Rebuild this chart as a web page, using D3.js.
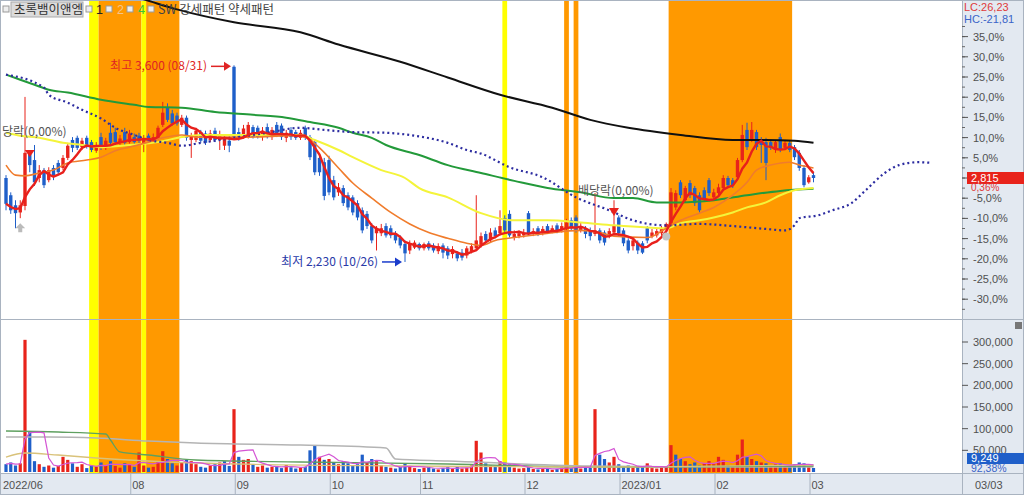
<!DOCTYPE html>
<html><head><meta charset="utf-8">
<script src="https://cdn.jsdelivr.net/npm/d3@7/dist/d3.min.js"></script>
<style>
body{margin:0;background:#fff;overflow:hidden}
text{font-family:"Liberation Sans","Noto Sans CJK KR",sans-serif}
.kr{font-family:"Noto Sans CJK KR","Liberation Sans",sans-serif}
</style>
</head><body>
<svg id="c" width="1024" height="495"></svg>
<script>
// ---------------- DATA ----------------
const opens=[2815,2695,2625,2575,2620,2990,2940,2815,2870,2800,2885,2920,2885,2955,3080,3095,3030,3095,3065,3005,3100,3025,3130,3135,3060,3135,3065,3100,3110,3055,3110,3075,3095,3185,3310,3265,3250,3185,3235,3080,3080,3135,3125,3080,3145,3080,3040,3075,3590,3135,3100,3100,3170,3165,3100,3170,3100,3185,3180,3095,3150,3135,3095,3165,3100,3065,2955,2925,2940,2800,2715,2745,2695,2680,2640,2590,2565,2480,2430,2430,2480,2465,2430,2400,2355,2310,2330,2355,2325,2360,2345,2305,2345,2325,2285,2290,2295,2275,2305,2325,2345,2425,2380,2450,2430,2535,2565,2400,2410,2415,2570,2425,2465,2430,2480,2445,2485,2450,2465,2520,2540,2450,2465,2450,2425,2450,2435,2410,2435,2540,2450,2380,2340,2365,2360,2465,2410,2415,2430,2460,2500,2610,2785,2660,2780,2745,2695,2730,2800,2680,2710,2745,2815,2800,2820,2940,3150,3080,3135,3080,3065,3065,3010,3100,3025,3060,3030,2990,2885,2785,2835];
const highs=[2835,2715,2660,2660,3380,3010,3045,2905,2885,2890,2905,2940,2975,3060,3100,3110,3095,3110,3080,3065,3130,3095,3200,3165,3115,3165,3150,3125,3130,3115,3125,3125,3180,3345,3335,3290,3270,3255,3250,3130,3165,3150,3145,3150,3165,3145,3115,3110,3600,3165,3185,3205,3185,3180,3170,3195,3170,3205,3195,3150,3170,3150,3150,3180,3115,3080,2975,2955,2970,2830,2780,2765,2715,2695,2660,2610,2585,2500,2480,2495,2500,2485,2445,2415,2380,2380,2380,2365,2365,2375,2360,2360,2360,2340,2340,2305,2320,2340,2360,2695,2435,2445,2465,2470,2590,2555,2590,2450,2450,2460,2585,2465,2480,2480,2495,2485,2500,2505,2530,2540,2555,2505,2480,2470,2710,2465,2450,2465,2660,2555,2465,2395,2395,2380,2375,2480,2460,2465,2480,2505,2745,2730,2800,2760,2800,2760,2715,2750,2815,2740,2775,2835,2830,2815,2955,3185,3200,3205,3150,3100,3095,3080,3080,3125,3080,3075,3045,3010,2905,2835,2855];
const lows=[2590,2565,2465,2535,2590,2855,2760,2785,2745,2785,2800,2835,2870,2940,2995,3010,3010,3020,2995,2990,3010,3010,3040,3045,3045,3040,3055,3045,3060,2995,3060,3060,3080,3170,3205,3180,3180,3170,3075,2955,3065,3060,3045,3065,3065,3010,3010,2995,3080,3075,3090,3090,3090,3090,3075,3090,3080,3100,3080,3065,3080,3080,3080,3080,2940,2835,2830,2660,2695,2660,2690,2620,2590,2555,2520,2430,2460,2360,2310,2410,2400,2395,2360,2325,2230,2285,2320,2310,2310,2310,2295,2285,2255,2250,2255,2235,2240,2255,2290,2310,2330,2360,2365,2395,2415,2435,2400,2380,2395,2400,2415,2410,2410,2415,2425,2430,2430,2435,2450,2450,2435,2435,2395,2380,2410,2360,2345,2395,2425,2410,2340,2290,2310,2285,2285,2360,2395,2400,2415,2435,2480,2590,2675,2645,2675,2620,2575,2655,2690,2670,2695,2730,2750,2745,2810,2925,3010,3065,3010,2920,2800,3010,2990,2995,3010,2995,2940,2865,2750,2775,2785];
const closes=[2635,2590,2570,2625,2990,2905,2785,2870,2765,2870,2830,2855,2955,3040,3025,3025,3075,3040,3010,3040,3030,3075,3060,3065,3090,3060,3125,3065,3075,3095,3075,3100,3165,3270,3220,3195,3195,3235,3095,3110,3145,3075,3060,3125,3080,3115,3090,3040,3100,3095,3160,3185,3100,3100,3145,3100,3150,3115,3100,3130,3100,3095,3130,3095,2960,2855,2855,2690,2715,2680,2750,2640,2610,2575,2540,2450,2480,2380,2460,2465,2415,2415,2380,2345,2290,2360,2365,2325,2355,2325,2310,2340,2295,2275,2320,2255,2260,2325,2340,2380,2410,2380,2435,2410,2480,2450,2415,2425,2430,2435,2430,2445,2425,2460,2435,2465,2445,2480,2505,2465,2450,2480,2425,2410,2450,2380,2365,2445,2485,2430,2360,2310,2380,2310,2295,2380,2435,2445,2460,2495,2715,2710,2695,2745,2695,2640,2590,2675,2710,2715,2750,2815,2765,2765,2940,3115,3030,3150,3030,3045,2920,3025,3065,3010,3060,3010,2960,2885,2765,2820,2815];
const volumes=[18000,22000,15000,20000,305000,92000,25000,18000,12000,15000,10000,14000,35000,28000,20000,12000,18000,9000,15000,12000,22000,16000,25000,14000,10000,20000,18000,12000,45000,15000,10000,12000,25000,48000,30000,20000,15000,22000,28000,25000,18000,12000,10000,15000,18000,22000,25000,14000,145000,35000,28000,30000,18000,12000,15000,10000,12000,14000,9000,16000,11000,8000,10000,12000,50000,62000,35000,28000,30000,22000,18000,25000,20000,15000,18000,40000,22000,30000,25000,15000,12000,10000,8000,12000,20000,14000,9000,7000,10000,12000,8000,6000,9000,11000,7000,12000,8000,10000,15000,72000,45000,20000,15000,12000,25000,22000,18000,10000,8000,9000,12000,7000,6000,8000,9000,5000,7000,10000,12000,9000,15000,8000,12000,10000,145000,40000,30000,22000,35000,18000,12000,15000,10000,12000,14000,20000,9000,8000,10000,12000,62000,40000,30000,25000,18000,22000,15000,20000,25000,18000,35000,28000,15000,12000,40000,75000,35000,30000,25000,22000,20000,15000,18000,20000,12000,15000,18000,22000,20000,12000,9249];

// moving-average lines: [day index, price]
const ma10 =[[0,2905],[2,2835],[4,2830],[7,2850],[10,2870],[13,2920],[17,2940],[20,2960],[23,3005],[26,3030],[30,3065],[33,3095],[37,3115],[40,3100],[44,3100],[51,3100],[60,3110],[63,3100],[66,3025],[70,2885],[73,2780],[77,2675],[81,2575],[85,2495],[89,2435],[93,2395],[97,2360],[100,2345],[103,2380],[107,2400],[113,2425],[121,2450],[125,2435],[128,2410],[135,2400],[139,2465],[142,2520],[146,2570],[149,2610],[153,2695],[156,2785],[158,2870],[161,2905],[165,2925],[167,2905],[170,2885]];
const ma20 =[[0,3130],[3,3110],[7,3095],[12,3060],[16,3045],[20,3030],[26,3045],[32,3065],[37,3100],[41,3115],[51,3115],[62,3115],[65,3080],[70,3010],[73,2960],[79,2870],[84,2815],[87,2745],[93,2680],[100,2570],[107,2520],[114,2520],[121,2505],[128,2485],[135,2470],[139,2465],[142,2500],[146,2520],[149,2540],[153,2575],[156,2610],[160,2645],[163,2695],[166,2730],[170,2745]];
const ma60 =[[0,3535],[6,3465],[9,3430],[13,3410],[20,3360],[27,3325],[30,3310],[37,3305],[44,3275],[52,3255],[59,3235],[64,3205],[70,3165],[73,3130],[77,3095],[80,3045],[87,2975],[93,2905],[100,2850],[107,2795],[114,2745],[121,2715],[128,2675],[132,2675],[137,2645],[142,2645],[149,2660],[156,2695],[163,2725],[170,2740]];
const ma120=[[20,4145],[29,4060],[36,3990],[48,3900],[62,3830],[70,3745],[83,3625],[93,3515],[104,3395],[115,3305],[123,3220],[131,3165],[142,3115],[153,3080],[160,3080],[166,3075],[170,3060]];
const leadLine=[[0,3535],[8,3445],[9,3395],[13,3340],[16,3290],[20,3230],[23,3165],[27,3115],[30,3080],[34,3060],[37,3040],[41,3060],[48,3095],[55,3130],[62,3165],[67,3150],[73,3135],[80,3130],[86,3110],[93,3060],[97,3010],[100,2985],[106,2890],[113,2820],[120,2680],[127,2590],[132,2520],[139,2485],[146,2495],[153,2480],[160,2460],[164,2450],[166,2485],[167,2535],[171,2555],[174,2590],[178,2640],[181,2730],[185,2850],[188,2905],[192,2925],[195,2920]];
// volume moving averages
const volMaLong=[[0,80800],[9,80800],[19,78500],[30,71500],[40,67000],[62,62300],[80,55400],[82,30000],[93,25400],[123,13800],[146,11500],[170,11500]];
const volMa20=[[0,94600],[11,92300],[21,87700],[22,73800],[24,46200],[30,39200],[40,27700],[62,23100],[93,18500],[123,11500],[170,13800]];
const volMa10=[[0,34600],[4,43900],[11,39200],[19,32300],[30,25400],[40,20800],[83,13800],[125,11500],[170,16200]];

// pattern bands (day index ranges)
const bandFrom=[18,20,29,30,105,118,120,140];
const bandTo  =[19,28,29,36,105,118,120,165];
const bandKind=["1","SW","1","SW","1","SW","SW","SW"];

const monthIdx=[0,27,49,69,88,110,130,150,170];
const monthLabels=["2022/06","08","09","10","11","12","2023/01","02","03"];
const pctTicks=[-30,-25,-20,-15,-10,-5,0,5,10,15,20,25,30,35];
const volTicks=[50000,100000,150000,200000,250000,300000];
const highDate="08/31", lowDate="10/26", lastDate="03/03";
const dayChangePct=0.36, volRatioPct=92.38;

// ---------------- CHART ----------------
(function(){
const svg=d3.select("#c");
const PR=962, TOPB=318, VOLT=320, VOLB=473;
const x=d3.scaleLinear().domain([0,200]).range([6,956]);
const base=closes[closes.length-1];
const y=d3.scaleLinear().domain([base*0.70,base*1.35]).range([299.2,36.6]);
const yv=d3.scaleLinear().domain([0,300000]).range([VOLB-1,342]);
const fmtPct=v=>v.toFixed(1).replace('.',',')+'%';
const fmtN=d3.format(",");

const defs=svg.append("defs");
defs.append("clipPath").attr("id","cTop").append("rect").attr("x",0).attr("y",0).attr("width",PR).attr("height",TOPB);
defs.append("clipPath").attr("id","cVol").append("rect").attr("x",0).attr("y",VOLT).attr("width",PR).attr("height",VOLB-VOLT);

svg.append("rect").attr("width",1024).attr("height",495).attr("fill","#fff");
svg.append("rect").attr("x",PR).attr("y",0).attr("width",1024-PR).attr("height",495).attr("fill","#e3e9f1");
svg.append("rect").attr("x",0).attr("y",VOLB+1).attr("width",1024).attr("height",495-VOLB-1).attr("fill","#e3e9f1");

const bandColor={"1":"#ffff00","SW":"#ff9900"};
svg.append("g").selectAll("rect").data(bandFrom).join("rect")
  .attr("x",(d,i)=>x(d-0.5)).attr("width",(d,i)=>x(bandTo[i]+0.5)-x(d-0.5))
  .attr("y",0).attr("height",VOLB).attr("fill",(d,i)=>bandColor[bandKind[i]]);

svg.append("line").attr("x1",0).attr("x2",1024).attr("y1",319.5).attr("y2",319.5).attr("stroke","#a9b3c0");
svg.append("line").attr("x1",0).attr("x2",1024).attr("y1",VOLB+0.5).attr("y2",VOLB+0.5).attr("stroke","#a9b3c0");
svg.append("line").attr("x1",PR+0.5).attr("x2",PR+0.5).attr("y1",0).attr("y2",495).attr("stroke","#a9b3c0");
svg.append("rect").attr("x",0.5).attr("y",0.5).attr("width",1023).attr("height",494).attr("fill","none").attr("stroke","#a9b3c0");

const topG=svg.append("g").attr("clip-path","url(#cTop)");
const idx=d3.range(closes.length);
const up=i=>closes[i]>=opens[i];
const RED="#e8231b", BLUE="#1f5fc9";

const cg=topG.append("g");
cg.selectAll("line").data(idx).join("line")
  .attr("x1",i=>x(i)).attr("x2",i=>x(i)).attr("y1",i=>y(highs[i])).attr("y2",i=>y(lows[i]))
  .attr("stroke",i=>up(i)?RED:BLUE).attr("stroke-width",1);
cg.selectAll("rect").data(idx).join("rect")
  .attr("x",i=>x(i)-1.7).attr("width",3.4)
  .attr("y",i=>Math.min(y(opens[i]),y(closes[i])))
  .attr("height",i=>Math.max(1,Math.abs(y(opens[i])-y(closes[i]))))
  .attr("fill",i=>up(i)?RED:BLUE);

const ln=d3.line().x(d=>x(d[0])).y(d=>y(d[1])).curve(d3.curveMonotoneX);
topG.append("path").attr("d",ln(ma120)).attr("fill","none").attr("stroke","#111").attr("stroke-width",2);
topG.append("path").attr("d",ln(ma60)).attr("fill","none").attr("stroke","#239a3a").attr("stroke-width",2);
topG.append("path").attr("d",ln(ma20)).attr("fill","none").attr("stroke","#f4f43a").attr("stroke-width",2);
topG.append("path").attr("d",ln(ma10)).attr("fill","none").attr("stroke","#f07c2c").attr("stroke-width",1.6);
topG.append("path").attr("d",ln(leadLine)).attr("fill","none").attr("stroke","#2c2ca0").attr("stroke-width",2.2).attr("stroke-dasharray","2,3");
const ma5=idx.map(i=>{const s=Math.max(0,i-4);return [i,d3.mean(closes.slice(s,i+1))];});
topG.append("path").attr("d",d3.line().x(d=>x(d[0])).y(d=>y(d[1]))(ma5)).attr("fill","none").attr("stroke","#e8201c").attr("stroke-width",2.4);

const iMax=d3.maxIndex(highs), iMin=d3.minIndex(lows);
const ann=svg.append("g");
ann.append("text").attr("class","kr").attr("x",x(iMax)-27).attr("y",y(highs[iMax])+5).attr("text-anchor","end")
  .attr("font-size",12).attr("fill","#e02424").text(`최고 ${fmtN(highs[iMax])} (${highDate})`);
ann.append("line").attr("x1",x(iMax)-23).attr("x2",x(iMax)-6).attr("y1",y(highs[iMax])+1).attr("y2",y(highs[iMax])+1).attr("stroke","#e02424").attr("stroke-width",1.5);
ann.append("path").attr("d",`M${x(iMax)-3},${y(highs[iMax])+1}l-7,-4.5v9z`).attr("fill","#e02424");
ann.append("text").attr("class","kr").attr("x",x(iMin)-27).attr("y",y(lows[iMin])+4).attr("text-anchor","end")
  .attr("font-size",12).attr("fill","#2a3aa8").text(`최저 ${fmtN(lows[iMin])} (${lowDate})`);
ann.append("line").attr("x1",x(iMin)-23).attr("x2",x(iMin)-6).attr("y1",y(lows[iMin])).attr("y2",y(lows[iMin])).attr("stroke","#1a3ccc").attr("stroke-width",1.5);
ann.append("path").attr("d",`M${x(iMin)-3},${y(lows[iMin])}l-7,-4.5v9z`).attr("fill","#1a3ccc");
ann.append("text").attr("class","kr").attr("x",2).attr("y",136).attr("font-size",12).attr("fill","#555").text("당락(0,00%)");
ann.append("text").attr("class","kr").attr("x",578).attr("y",195).attr("font-size",12).attr("fill","#555").text("배당락(0,00%)");
ann.append("path").attr("d",`M${x(5)-5},150h10l-5,7z`).attr("fill","#e8201c");
ann.append("path").attr("d",`M${x(128)-5},208h10l-5,8z`).attr("fill","#e8201c");
ann.append("path").attr("d",`M${x(3)},${y(lows[3])+5}l5,5h-3v4h-4v-4h-3z`).attr("fill","#bbbbbb");
ann.append("circle").attr("cx",x(139)).attr("cy",y(lows[139])+4).attr("r",4).attr("fill","#c4c4c4");

const vg=svg.append("g").attr("clip-path","url(#cVol)");
const vUp=i=>i===0?up(i):closes[i]>=closes[i-1];
vg.selectAll("rect").data(idx).join("rect")
  .attr("x",i=>x(i)-1.6).attr("width",3.2)
  .attr("y",i=>yv(volumes[i])).attr("height",i=>yv(0)-yv(volumes[i]))
  .attr("fill",i=>vUp(i)?RED:BLUE);
const lv=d3.line().x(d=>x(d[0])).y(d=>yv(d[1])).curve(d3.curveMonotoneX);
vg.append("path").attr("d",lv(volMaLong)).attr("fill","none").attr("stroke","#b4b4b4").attr("stroke-width",1.5);
vg.append("path").attr("d",lv(volMa20)).attr("fill","none").attr("stroke","#5fa060").attr("stroke-width",1.3);
vg.append("path").attr("d",lv(volMa10)).attr("fill","none").attr("stroke","#d9c27a").attr("stroke-width",1.3);
const vma5=idx.map(i=>{const s=Math.max(0,i-4);return [i,d3.mean(volumes.slice(s,i+1))];});
vg.append("path").attr("d",d3.line().x(d=>x(d[0])).y(d=>yv(d[1]))(vma5)).attr("fill","none").attr("stroke","#d455d4").attr("stroke-width",1.2);

const ax=svg.append("g").attr("font-size",11).attr("fill","#444");
const minor=d3.range(-32.5,40,2.5);
ax.selectAll("line.mn").data(minor).join("line").attr("class","mn")
  .attr("x1",PR).attr("x2",PR+3).attr("y1",d=>y(base*(1+d/100))).attr("y2",d=>y(base*(1+d/100))).attr("stroke","#666");
ax.selectAll("line.mj").data(pctTicks).join("line").attr("class","mj")
  .attr("x1",PR).attr("x2",PR+6).attr("y1",d=>y(base*(1+d/100))).attr("y2",d=>y(base*(1+d/100))).attr("stroke","#555");
ax.selectAll("text.pt").data(pctTicks.filter(d=>d!==0)).join("text").attr("class","pt")
  .attr("x",PR+11).attr("y",d=>y(base*(1+d/100))+4).attr("fill","#505050").text(d=>fmtPct(d));
const lc=(base/d3.min(lows)-1)*100, hc=(base/d3.max(highs)-1)*100;
ax.append("text").attr("x",PR+2).attr("y",11).attr("fill","#e03a3a").text("LC:"+lc.toFixed(2).replace('.',','));
ax.append("text").attr("x",PR+2).attr("y",23).attr("fill","#3a64c8").text("HC:"+hc.toFixed(2).replace('.',','));
ax.append("rect").attr("x",PR+5).attr("y",y(base)-6).attr("width",57).attr("height",12).attr("fill","#e8231b");
ax.append("text").attr("x",PR+9).attr("y",y(base)+4).attr("fill","#fff").text(fmtN(base));
ax.append("text").attr("x",PR+9).attr("y",y(base)+13).attr("font-size",10).attr("fill","#e03a3a").text(dayChangePct.toFixed(2).replace('.',',')+'%');

ax.selectAll("line.vt").data(volTicks).join("line").attr("class","vt")
  .attr("x1",PR).attr("x2",PR+6).attr("y1",d=>yv(d)).attr("y2",d=>yv(d)).attr("stroke","#555");
ax.selectAll("text.vl").data(volTicks).join("text").attr("class","vl")
  .attr("x",PR+11).attr("y",d=>yv(d)+4).attr("fill","#505050").text(d=>fmtN(d));
const lastV=volumes[volumes.length-1];
ax.append("rect").attr("x",PR+5).attr("y",yv(lastV)-15).attr("width",57).attr("height",11).attr("fill","#1f5fc9");
ax.append("text").attr("x",PR+9).attr("y",yv(lastV)-6).attr("fill","#fff").text(fmtN(lastV));
ax.append("text").attr("x",PR+9).attr("y",yv(lastV)+4).attr("font-size",10.5).attr("fill","#3a64c8").text(volRatioPct.toFixed(2).replace('.',',')+'%');
ax.append("rect").attr("x",1015).attr("y",322).attr("width",7).attr("height",7).attr("fill","#777");

const dg=svg.append("g").attr("font-size",11).attr("fill","#505050");
dg.selectAll("line").data(monthIdx.slice(1)).join("line")
  .attr("x1",d=>x(d)-3.5).attr("x2",d=>x(d)-3.5).attr("y1",VOLB).attr("y2",495).attr("stroke","#a9b3c0");
dg.selectAll("text").data(monthIdx).join("text")
  .attr("x",(d,i)=>i===0?3:x(d)-2).attr("y",489).text((d,i)=>monthLabels[i]);
dg.append("text").attr("x",PR+13).attr("y",489).text(lastDate);

const lg=svg.append("g").attr("font-size",12.5);
const sq=(xx)=>{lg.append("rect").attr("x",xx).attr("y",6).attr("width",6).attr("height",6).attr("fill","#eee").attr("stroke","#999");};
sq(3);
lg.append("rect").attr("x",11).attr("y",2).attr("width",72).attr("height",15).attr("fill","#dcdcdc").attr("stroke","#aaa");
lg.append("text").attr("class","kr").attr("x",14).attr("y",14).attr("fill","#333").text("초록뱀이앤엠");
sq(86); lg.append("text").attr("x",96).attr("y",14).attr("fill","#222").text("1");
sq(106); lg.append("text").attr("x",117).attr("y",14).attr("fill","#f5c48c").text("2");
sq(127); lg.append("text").attr("x",138).attr("y",14).attr("fill","#3cbf3c").text("4");
sq(148);
lg.append("text").attr("class","kr").attr("x",158).attr("y",14).attr("fill","#444").text("SW 강세패턴  약세패턴");
})();
</script>
</body></html>
